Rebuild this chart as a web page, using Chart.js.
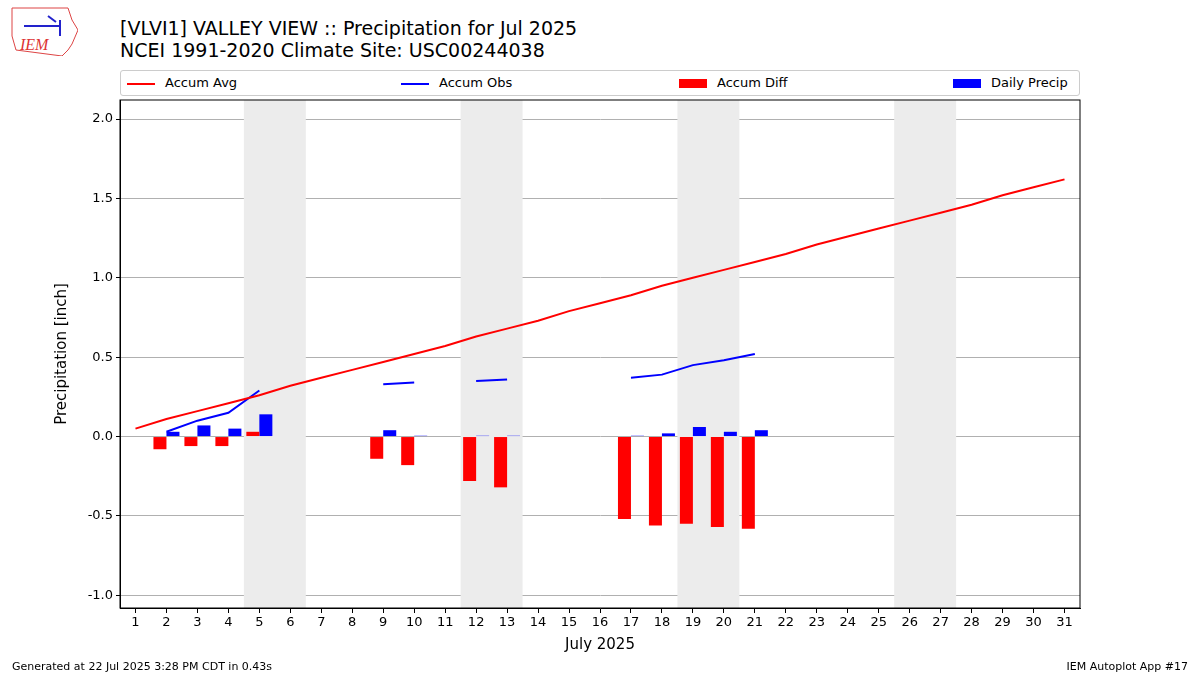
<!DOCTYPE html>
<html><head><meta charset="utf-8">
<script src="https://cdn.jsdelivr.net/npm/chart.js@4/dist/chart.umd.min.js"></script>
<style>
body{margin:0;width:1200px;height:675px;position:relative;font-family:"DejaVu Sans",sans-serif;background:#fff;overflow:hidden}
#t{position:absolute;left:120px;top:17px;font-size:19px;line-height:22px;color:#000}
#lg{position:absolute;left:120px;top:70px;width:958px;height:24px;border:1px solid #ccc;border-radius:3px;font-size:13px}
.li{position:absolute;top:4px}
.sw{display:inline-block;width:28px;vertical-align:middle;margin-right:10px}
.f{position:absolute;font-size:11px;top:660px}
#logo{position:absolute;left:10px;top:6px;width:68px;height:50px}
#cw{position:absolute;left:0;top:0;width:1200px;height:675px}
</style></head><body>
<svg id="logo" viewBox="0 0 68 50"><path d="M2 2 L58 2 L62 14 L68 24 L62 38 L58 44 L52 50 L6 44 L2 30 Z" fill="none" stroke="#d44" stroke-width="1"/><text x="10" y="44" font-size="16" font-style="italic" fill="#d33" font-family="serif">IEM</text><path d="M14 20 L50 20 M38 10 L46 16 M50 14 L50 30" stroke="#22c" stroke-width="2" fill="none"/></svg>
<div id="t">[VLVI1] VALLEY VIEW :: Precipitation for Jul 2025<br>NCEI 1991-2020 Climate Site: USC00244038</div>
<div id="lg">
<span class="li" style="left:6px"><span class="sw" style="height:2px;background:red"></span>Accum Avg</span>
<span class="li" style="left:280px"><span class="sw" style="height:2px;background:blue"></span>Accum Obs</span>
<span class="li" style="left:558px"><span class="sw" style="height:9px;background:red"></span>Accum Diff</span>
<span class="li" style="left:832px"><span class="sw" style="height:9px;background:blue"></span>Daily Precip</span>
</div>
<div id="cw"><canvas id="c" width="1200" height="675"></canvas></div>
<div class="f" style="left:12px">Generated at 22 Jul 2025 3:28 PM CDT in 0.43s</div>
<div class="f" style="right:12px">IEM Autoplot App #17</div>
<script>
const days = Array.from({length:31},(_,i)=>String(i+1));
const accumAvg = [0.05,0.11,0.16,0.21,0.26,0.32,0.37,0.42,0.47,0.52,0.57,0.63,0.68,0.73,0.79,0.84,0.89,0.95,1.00,1.05,1.10,1.15,1.21,1.26,1.31,1.36,1.41,1.46,1.52,1.57,1.62];
const accumObs = [null,0.03,0.10,0.15,0.29,null,null,null,0.33,0.34,null,0.35,0.36,null,null,null,0.37,0.39,0.45,0.48,0.52,null,null,null,null,null,null,null,null,null,null];
const accumDiff = [null,-0.08,-0.06,-0.06,0.03,null,null,null,-0.14,-0.18,null,-0.28,-0.32,null,null,null,-0.52,-0.56,-0.55,-0.57,-0.58,null,null,null,null,null,null,null,null,null,null];
const dailyPrecip = [null,0.03,0.07,0.05,0.14,null,null,null,0.04,0.005,null,0.005,0.005,null,null,null,0.005,0.02,0.06,0.03,0.04,null,null,null,null,null,null,null,null,null,null];
const weekends = [[5,6],[12,13],[19,20],[26,27]];
const yTicks = [-1.0,-0.5,0.0,0.5,1.0,1.5,2.0];

const shade = {id:'shade',beforeDatasetsDraw(ch){
  const {ctx,chartArea:a,scales:{x}}=ch; const w=x.getPixelForValue(1)-x.getPixelForValue(0);
  ctx.save();ctx.fillStyle='#ececec';
  weekends.forEach(([s,e])=>{const l=x.getPixelForValue(s-1)-w/2,r=x.getPixelForValue(e-1)+w/2;ctx.fillRect(l,a.top,r-l,a.bottom-a.top);});
  ctx.restore();}};
const frame = {id:'frame',afterDraw(ch){const {ctx,chartArea:a}=ch;ctx.save();ctx.strokeStyle='#000';ctx.lineWidth=1;ctx.strokeRect(a.left,a.top,a.right-a.left,a.bottom-a.top);ctx.restore();}};

new Chart(document.getElementById('c'),{
  data:{labels:days,datasets:[
    {type:'line',label:'Accum Avg',data:accumAvg,borderColor:'red',borderWidth:2,pointRadius:0,order:1},
    {type:'line',label:'Accum Obs',data:accumObs,borderColor:'blue',borderWidth:2,pointRadius:0,spanGaps:false,order:2},
    {type:'bar',label:'Accum Diff',data:accumDiff,backgroundColor:'red',categoryPercentage:0.84,barPercentage:1,order:3},
    {type:'bar',label:'Daily Precip',data:dailyPrecip,backgroundColor:'blue',categoryPercentage:0.84,barPercentage:1,order:4}
  ]},
  options:{responsive:false,animation:false,
    layout:{padding:{left:53,right:120,top:100,bottom:17}},
    plugins:{legend:{display:false},tooltip:{enabled:false}},
    scales:{
      x:{offset:true,grid:{display:true,drawOnChartArea:false,drawTicks:true,tickColor:'#000',tickLength:5,offset:false},border:{color:'#000'},
        ticks:{color:'#000',font:{size:13,family:'DejaVu Sans'},maxRotation:0,autoSkip:false,padding:2},
        title:{display:true,text:'July 2025',color:'#000',font:{size:15,family:'DejaVu Sans'},padding:{top:2}},
        afterFit(s){s.height=50;}},
      y:{min:-1.08,max:2.12,grid:{color:'#b0b0b0',drawTicks:true,tickColor:'#000',tickLength:4},border:{color:'#000'},
        afterBuildTicks(s){s.ticks=yTicks.map(v=>({value:v}));},
        ticks:{color:'#000',font:{size:13,family:'DejaVu Sans'},callback:v=>v.toFixed(1)},
        title:{display:true,text:'Precipitation [inch]',color:'#000',font:{size:15,family:'DejaVu Sans'},padding:0},
        afterFit(s){s.width=67;}}
    }},
  plugins:[shade,frame]
});
</script></body></html>
